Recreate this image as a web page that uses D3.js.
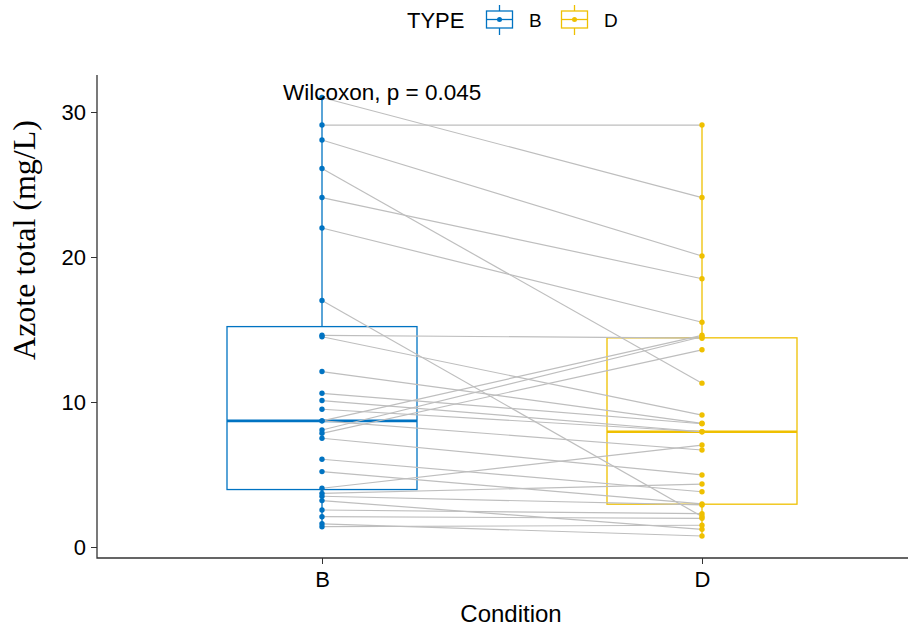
<!DOCTYPE html>
<html lang="en">
<head>
<meta charset="UTF-8">
<title>Azote total</title>
<script src="https://d3js.org/d3.v7.min.js"></script>
<style>
  body { margin: 0; background: #fff; }
  text { font-family: "Liberation Sans", Arial, sans-serif; fill: #000; }
</style>
</head>
<body>
<div id="chart"></div>
<script>
// paired values: bVals[i] is linked to dVals[i]
const conditions = ["B", "D"];
const colors = { B: "#0073C2", D: "#EFC000" };
const bVals = [31.0, 29.1, 28.07, 26.1, 24.1, 22.0, 17.0, 14.6, 14.5, 12.1, 10.6, 10.1, 9.5, 8.7,
               8.7, 8.07, 7.84, 7.5, 6.05, 5.2, 4.05, 3.7, 3.5, 3.2, 2.55, 2.09, 1.6, 1.4];
const dVals = [24.1, 29.1, 20.07, 11.3, 18.5, 15.5, 2.1, 14.4, 9.1, 8.53, 8.5, 7.95, 7.95, 14.6,
               6.69, 14.5, 13.6, 4.97, 3.81, 2.97, 7.03, 4.34, 2.9, 1.22, 2.3, 1.98, 0.76, 1.5];
const yTicks = [0, 10, 20, 30];
const pLabel = "Wilcoxon, p = 0.045";

const width = 916, height = 628;
const panel = { left: 97, right: 908, top: 75, bottom: 558 };

const svg = d3.select("#chart").append("svg")
    .attr("width", width)
    .attr("height", height);

const x = d3.scalePoint().domain(conditions).range([322, 702]);
const y = d3.scaleLinear().domain([0, 30]).range([547, 112]);
const boxW = 190;

// boxplot stats (type 7 quantiles, 1.5 IQR whiskers)
function stats(vals) {
    const s = vals.slice().sort(d3.ascending);
    const q1 = d3.quantile(s, 0.25), med = d3.quantile(s, 0.5), q3 = d3.quantile(s, 0.75);
    const iqr = q3 - q1;
    const lo = d3.min(s.filter(v => v >= q1 - 1.5 * iqr));
    const hi = d3.max(s.filter(v => v <= q3 + 1.5 * iqr));
    return { q1, med, q3, lo, hi };
}

const groups = [
    { key: "B", vals: bVals },
    { key: "D", vals: dVals }
];

svg.append("g").selectAll("g")
    .data(groups)
    .enter().append("g")
    .each(function (g) {
        const st = stats(g.vals);
        const cx = x(g.key);
        const sel = d3.select(this).attr("stroke", colors[g.key]).attr("fill", "none");
        sel.append("line").attr("x1", cx).attr("x2", cx).attr("y1", y(st.q3)).attr("y2", y(st.hi)).attr("stroke-width", 1.3);
        sel.append("line").attr("x1", cx).attr("x2", cx).attr("y1", y(st.q1)).attr("y2", y(st.lo)).attr("stroke-width", 1.3);
        sel.append("rect")
            .attr("x", cx - boxW / 2).attr("width", boxW)
            .attr("y", y(st.q3)).attr("height", y(st.q1) - y(st.q3))
            .attr("stroke-width", 1.3);
        sel.append("line")
            .attr("x1", cx - boxW / 2).attr("x2", cx + boxW / 2)
            .attr("y1", y(st.med)).attr("y2", y(st.med))
            .attr("stroke-width", 2.6);
    });

// paired lines
svg.append("g").selectAll("line")
    .data(bVals.map((b, i) => [b, dVals[i]]))
    .enter().append("line")
    .attr("x1", x("B")).attr("x2", x("D"))
    .attr("y1", d => y(d[0])).attr("y2", d => y(d[1]))
    .attr("stroke", "#bebebe")
    .attr("stroke-width", 1.2);

// points
groups.forEach(g => {
    svg.append("g").selectAll("circle")
        .data(g.vals)
        .enter().append("circle")
        .attr("cx", x(g.key))
        .attr("cy", d => y(d))
        .attr("r", 2.7)
        .attr("fill", colors[g.key]);
});

// axes
const yAxis = svg.append("g")
    .attr("transform", `translate(${panel.left},0)`)
    .call(d3.axisLeft(y).tickValues(yTicks).tickSize(6).tickPadding(5));
yAxis.select(".domain").remove();
yAxis.selectAll(".tick line").attr("stroke", "#333");
yAxis.selectAll(".tick text").style("font-size", "22px").attr("fill", "#000")
    .style("font-family", "'Liberation Sans', Arial, sans-serif");

const xAxis = svg.append("g")
    .attr("transform", `translate(0,${panel.bottom})`)
    .call(d3.axisBottom(x).tickSize(6).tickPadding(7));
xAxis.select(".domain").remove();
xAxis.selectAll(".tick line").attr("stroke", "#333");
xAxis.selectAll(".tick text").style("font-size", "22px").attr("fill", "#000")
    .style("font-family", "'Liberation Sans', Arial, sans-serif");

svg.append("path")
    .attr("d", `M${panel.left},${panel.top}V${panel.bottom}H${panel.right}`)
    .attr("fill", "none")
    .attr("stroke", "#333")
    .attr("stroke-width", 1.3);

// titles
svg.append("text")
    .attr("x", 511).attr("y", 622)
    .attr("text-anchor", "middle")
    .style("font-size", "24px")
    .attr("fill", "#333")
    .text("Condition");

svg.append("text")
    .attr("transform", "translate(35,240) rotate(-90)")
    .attr("text-anchor", "middle")
    .style("font-family", "'Liberation Serif', 'Times New Roman', serif")
    .style("font-size", "32px")
    .text("Azote total (mg/L)");

svg.append("text")
    .attr("x", 283).attr("y", 100)
    .style("font-size", "22.5px")
    .text(pLabel);

// legend
const legend = svg.append("g");
legend.append("text")
    .attr("x", 407).attr("y", 28)
    .style("font-size", "22px")
    .text("TYPE");

const keyX = { B: 486, D: 561 };
conditions.forEach(c => {
    const k = legend.append("g").attr("transform", `translate(${keyX[c]},0)`);
    const col = colors[c];
    k.append("line").attr("x1", 13.5).attr("x2", 13.5).attr("y1", 5).attr("y2", 35).attr("stroke", col).attr("stroke-width", 1.3);
    k.append("rect").attr("x", 0.5).attr("y", 11).attr("width", 26).attr("height", 17)
        .attr("fill", "#fff").attr("stroke", col).attr("stroke-width", 1.3);
    k.append("line").attr("x1", 0.5).attr("x2", 26.5).attr("y1", 19.5).attr("y2", 19.5).attr("stroke", col).attr("stroke-width", 1.3);
    k.append("circle").attr("cx", 13.5).attr("cy", 19.5).attr("r", 2.5).attr("fill", col);
    k.append("text").attr("x", 43).attr("y", 27).style("font-size", "19px").text(c);
});
</script>
</body>
</html>
